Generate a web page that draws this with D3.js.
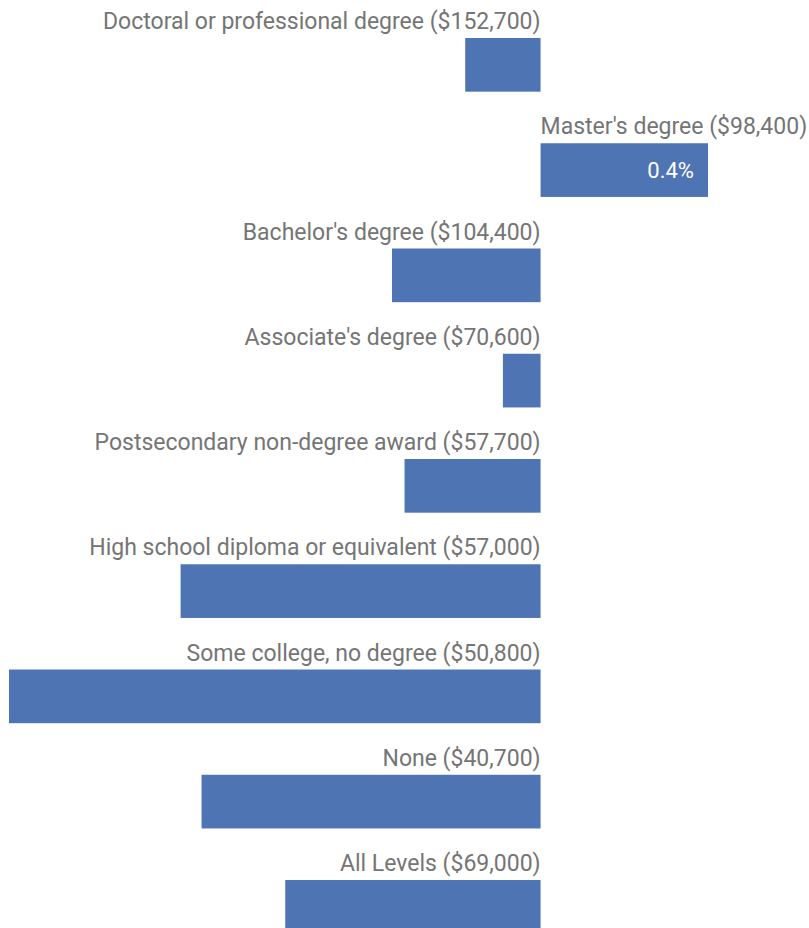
<!DOCTYPE html>
<html>
<head>
<meta charset="utf-8">
<script src="https://cdn.jsdelivr.net/npm/d3@7"></script>
<style>
  html, body { margin: 0; padding: 0; background: #fff; overflow: hidden; }
  svg { display: block; }
</style>
</head>
<body>
<svg id="chart" width="809" height="940"></svg>
<script>
const categories = [
  "Doctoral or professional degree ($152,700)",
  "Master's degree ($98,400)",
  "Bachelor's degree ($104,400)",
  "Associate's degree ($70,600)",
  "Postsecondary non-degree award ($57,700)",
  "High school diploma or equivalent ($57,000)",
  "Some college, no degree ($50,800)",
  "None ($40,700)",
  "All Levels ($69,000)"
];
const values = [-0.18, 0.4, -0.355, -0.09, -0.325, -0.86, -1.27, -0.81, -0.61];

const data = categories.map((c, i) => ({ cat: c, v: values[i] }));
const labelFor = {};
categories.forEach((c, i) => { labelFor[c] = values[i] > 0 ? d3.format(".1f")(values[i]) + "%" : ""; });

const svg = d3.select("#chart");
const x = d3.scaleLinear().domain([-1.27, 0.4]).range([9, 708]);
const y = d3.scaleBand().domain(categories).range([38, 933.7]).paddingInner(0.49).paddingOuter(0);

const barColor = "#4f74b3";
const textColor = "#757575";
const font = "Roboto, 'Noto Sans', sans-serif";

svg.selectAll("rect.bar").data(data).enter().append("rect")
  .attr("class", "bar")
  .attr("x", d => x(Math.min(0, d.v)))
  .attr("width", d => Math.abs(x(d.v) - x(0)))
  .attr("y", d => y(d.cat))
  .attr("height", y.bandwidth())
  .attr("fill", barColor);

svg.selectAll("text.cat").data(data).enter().append("text")
  .attr("class", "cat")
  .attr("x", x(0))
  .attr("y", d => y(d.cat) - 9)
  .attr("text-anchor", d => d.v >= 0 ? "start" : "end")
  .attr("font-family", font)
  .attr("font-size", 23)
  .attr("fill", textColor)
  .text(d => d.cat);

svg.selectAll("text.val").data(data.filter(d => labelFor[d.cat])).enter().append("text")
  .attr("class", "val")
  .attr("x", d => x(d.v) - 14)
  .attr("y", d => y(d.cat) + y.bandwidth() / 2)
  .attr("dy", "0.35em")
  .attr("text-anchor", "end")
  .attr("font-family", font)
  .attr("font-size", 22)
  .attr("fill", "#ffffff")
  .text(d => labelFor[d.cat]);
</script>
</body>
</html>
